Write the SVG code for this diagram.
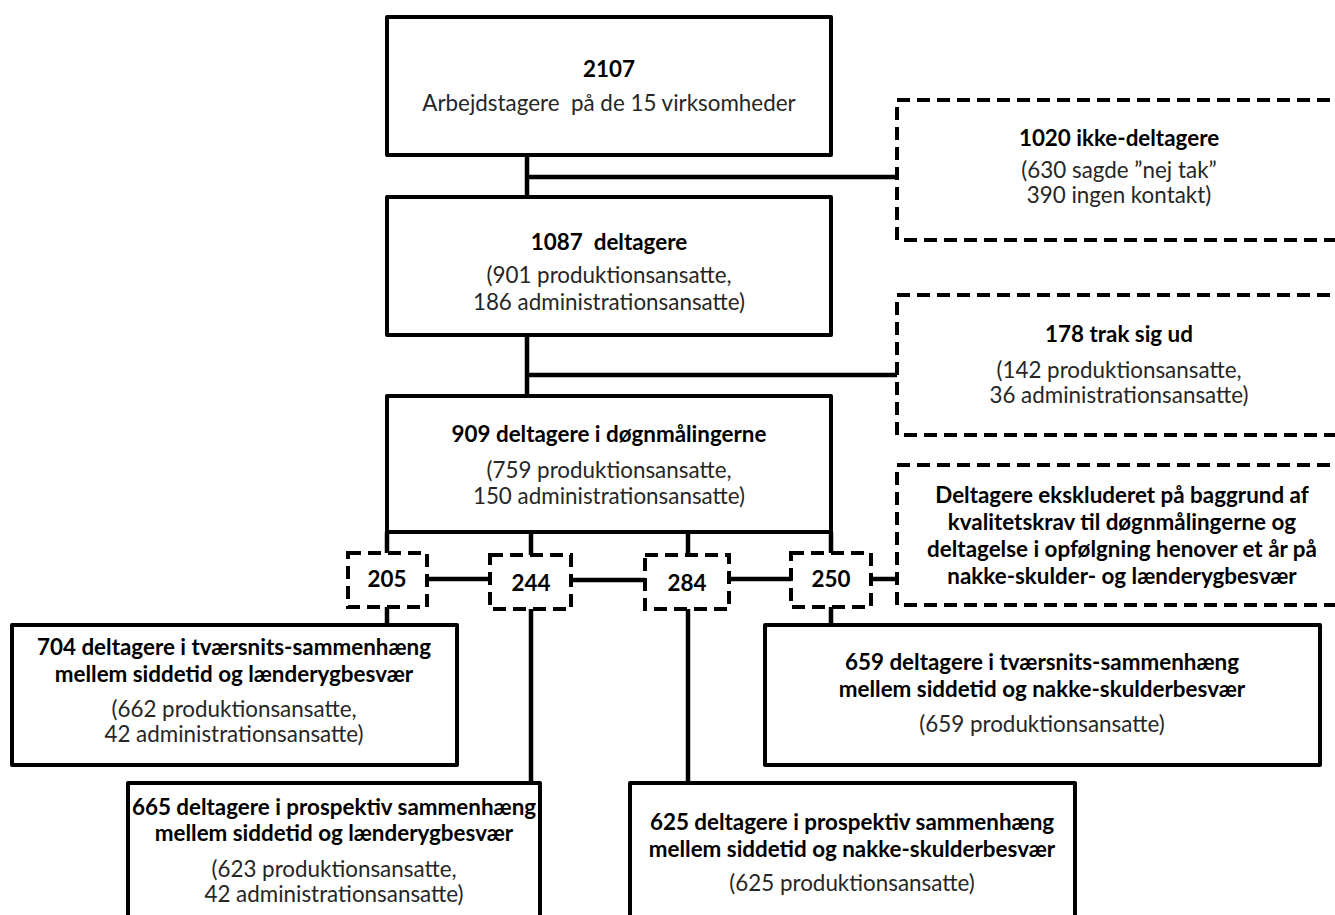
<svg xmlns="http://www.w3.org/2000/svg" width="1335" height="915" viewBox="0 0 1335 915">
<style>
.box{fill:#fff;stroke:#000;stroke-width:4;stroke-linejoin:round}
.dbox{fill:#fff;stroke:#000;stroke-width:4;stroke-dasharray:13 7}
.conn{fill:none;stroke:#000;stroke-width:4.5}
.b{font-family:Lato,"Liberation Sans",sans-serif;font-weight:bold;font-size:22.4px;fill:#000;text-anchor:middle}
.r{font-family:Lato,"Liberation Sans",sans-serif;font-size:22.4px;fill:#262626;text-anchor:middle}
</style>
<rect width="1335" height="915" fill="#fff"/>
<g id="connectors">
<path class="conn" d="M527 155V197M527 177H897"/>
<path class="conn" d="M527 335V396M527 375H897"/>
<path class="conn" d="M387 532V553M531 532V555M688 527V555M831 532V553"/>
<path class="conn" d="M427 579H490M571 580H645M729 579H791M871 579H897"/>
<path class="conn" d="M387 607V625M531 609V783M688 609V783M831 607V625"/>
</g>
<g id="n2107">
<rect class="box" x="387" y="17" width="444" height="138"/>
<text class="b" x="609" y="77">2107</text>
<text class="r" x="609" y="111" xml:space="preserve">Arbejdstagere  på de 15 virksomheder</text>
</g>
<g id="n1020">
<rect class="dbox" x="897" y="100" width="470" height="140"/>
<text class="b" x="1119" y="146">1020 ikke-deltagere</text>
<text class="r" x="1119" y="178">(630 sagde ”nej tak”</text>
<text class="r" x="1119" y="203">390 ingen kontakt)</text>
</g>
<g id="n1087">
<rect class="box" x="387" y="197" width="444" height="138"/>
<text class="b" x="609" y="250" xml:space="preserve">1087  deltagere</text>
<text class="r" x="609" y="283">(901 produktionsansatte,</text>
<text class="r" x="609" y="310">186 administrationsansatte)</text>
</g>
<g id="n178">
<rect class="dbox" x="897" y="295" width="470" height="140"/>
<text class="b" x="1119" y="342">178 trak sig ud</text>
<text class="r" x="1119" y="378">(142 produktionsansatte,</text>
<text class="r" x="1119" y="403">36 administrationsansatte)</text>
</g>
<g id="n909">
<rect class="box" x="387" y="396" width="444" height="136"/>
<text class="b" x="609" y="442">909 deltagere i døgnmålingerne</text>
<text class="r" x="609" y="478">(759 produktionsansatte,</text>
<text class="r" x="609" y="504">150 administrationsansatte)</text>
</g>
<g id="nexcl">
<rect class="dbox" x="897" y="465" width="470" height="140"/>
<text class="b" x="1122" y="503">Deltagere ekskluderet på baggrund af</text>
<text class="b" x="1122" y="530">kvalitetskrav til døgnmålingerne og</text>
<text class="b" x="1122" y="557">deltagelse i opfølgning henover et år på</text>
<text class="b" x="1122" y="584">nakke-skulder- og lænderygbesvær</text>
</g>
<g id="n205">
<rect class="dbox" x="348" y="553" width="79" height="54"/>
<text class="b" x="387" y="587">205</text>
</g>
<g id="n244">
<rect class="dbox" x="490" y="555" width="81" height="54"/>
<text class="b" x="531" y="591">244</text>
</g>
<g id="n284">
<rect class="dbox" x="645" y="555" width="84" height="54"/>
<text class="b" x="687" y="591">284</text>
</g>
<g id="n250">
<rect class="dbox" x="791" y="553" width="80" height="54"/>
<text class="b" x="831" y="587">250</text>
</g>
<g id="n704">
<rect class="box" x="12" y="625" width="445" height="140"/>
<text class="b" x="234" y="655">704 deltagere i tværsnits-sammenhæng</text>
<text class="b" x="234" y="682">mellem siddetid og lænderygbesvær</text>
<text class="r" x="234" y="717">(662 produktionsansatte,</text>
<text class="r" x="234" y="742">42 administrationsansatte)</text>
</g>
<g id="n659">
<rect class="box" x="765" y="625" width="555" height="140"/>
<text class="b" x="1042" y="670">659 deltagere i tværsnits-sammenhæng</text>
<text class="b" x="1042" y="697">mellem siddetid og nakke-skulderbesvær</text>
<text class="r" x="1042" y="732">(659 produktionsansatte)</text>
</g>
<g id="n665">
<rect class="box" x="128" y="783" width="412" height="150"/>
<text class="b" x="334" y="815">665 deltagere i prospektiv sammenhæng</text>
<text class="b" x="334" y="841">mellem siddetid og lænderygbesvær</text>
<text class="r" x="334" y="877">(623 produktionsansatte,</text>
<text class="r" x="334" y="902">42 administrationsansatte)</text>
</g>
<g id="n625">
<rect class="box" x="630" y="783" width="445" height="150"/>
<text class="b" x="852" y="830">625 deltagere i prospektiv sammenhæng</text>
<text class="b" x="852" y="857">mellem siddetid og nakke-skulderbesvær</text>
<text class="r" x="852" y="891">(625 produktionsansatte)</text>
</g>
</svg>
